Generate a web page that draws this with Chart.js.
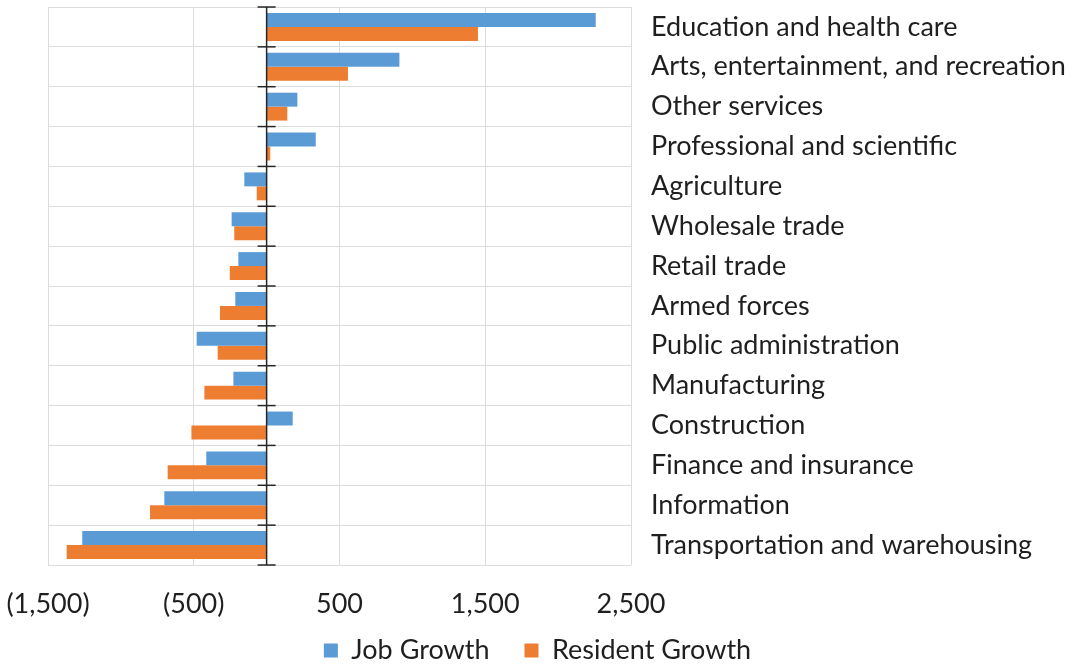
<!DOCTYPE html>
<html><head><meta charset="utf-8">
<script src="https://cdn.jsdelivr.net/npm/chart.js@4/dist/chart.umd.min.js"></script>
<style>html,body{margin:0;padding:0;background:#fff}#wrap{width:1075px;height:666px;position:relative}</style>
</head><body><div id="wrap"><canvas id="c"></canvas></div>
<script>
const categories = [
  'Education and health care',
  'Arts, entertainment, and recreation',
  'Other services',
  'Professional and scientific',
  'Agriculture',
  'Wholesale trade',
  'Retail trade',
  'Armed forces',
  'Public administration',
  'Manufacturing',
  'Construction',
  'Finance and insurance',
  'Information',
  'Transportation and warehousing'
];
const seriesNames = ['Job Growth', 'Resident Growth'];
const jobGrowth = [2258, 911, 211, 337, -153, -240, -194, -215, -480, -228, 179, -414, -702, -1265];
const residentGrowth = [1450, 558, 142, 25, -68, -222, -253, -320, -336, -427, -516, -679, -800, -1372];
const xMin = -1500, xMax = 2500, xStep = 1000;

const FONT = 'Lato, "Open Sans", sans-serif';
const TEXT = '#1f1f1f';
const GRID = '#dcdcdc';

function fmt(v) {
  const s = Math.abs(v).toLocaleString('en-US');
  return v < 0 ? '(' + s + ')' : s;
}

const zeroAxisPlugin = {
  id: 'zeroAxis',
  afterDatasetsDraw(chart) {
    const x = chart.scales.x, y = chart.scales.y, ctx = chart.ctx;
    const x0 = x.getPixelForValue(0);
    ctx.save();
    ctx.strokeStyle = '#262626';
    ctx.lineWidth = 1.5;
    ctx.beginPath();
    ctx.moveTo(x0, chart.chartArea.top);
    ctx.lineTo(x0, chart.chartArea.bottom);
    ctx.stroke();
    for (let i = 0; i <= categories.length; i++) {
      const py = y.getPixelForValue(i - 0.5);
      ctx.beginPath();
      ctx.moveTo(x0 - 9, py);
      ctx.lineTo(x0 + 9, py);
      ctx.stroke();
    }
    ctx.restore();
  }
};

new Chart(document.getElementById('c'), {
  type: 'bar',
  data: {
    labels: categories,
    datasets: [
      { label: seriesNames[0], data: jobGrowth, backgroundColor: '#5B9BD5', categoryPercentage: 0.7, barPercentage: 1.0 },
      { label: seriesNames[1], data: residentGrowth, backgroundColor: '#ED7D31', categoryPercentage: 0.7, barPercentage: 1.0 }
    ]
  },
  options: {
    indexAxis: 'y',
    responsive: true,
    maintainAspectRatio: false,
    animation: false,
    layout: { padding: { top: 7, right: 0, left: 0, bottom: 0 } },
    scales: {
      x: {
        type: 'linear',
        min: xMin, max: xMax,
        ticks: { stepSize: xStep, callback: v => fmt(v), color: TEXT, font: { family: FONT, size: 27 }, padding: -55, maxRotation: 0, mirror: true },
        grid: { color: GRID, lineWidth: 1, drawTicks: false },
        border: { display: false },
        afterFit(s) { s.height = 37; s.paddingLeft = 48; s.paddingRight = 0; }
      },
      y: {
        type: 'category',
        position: 'right',
        ticks: { color: TEXT, font: { family: FONT, size: 27 }, padding: 20, autoSkip: false },
        grid: { color: GRID, lineWidth: 1, drawTicks: false, offset: true },
        border: { display: false },
        afterFit(s) { s.width = 444; s.paddingTop = 0; s.paddingBottom = 0; }
      }
    },
    plugins: {
      legend: {
        position: 'bottom',
        maxHeight: 64,
        labels: { boxWidth: 14, boxHeight: 14, color: TEXT, font: { family: FONT, size: 27 }, padding: 35 }
      },
      tooltip: { enabled: false }
    }
  },
  plugins: [zeroAxisPlugin]
});
</script>
</body></html>
